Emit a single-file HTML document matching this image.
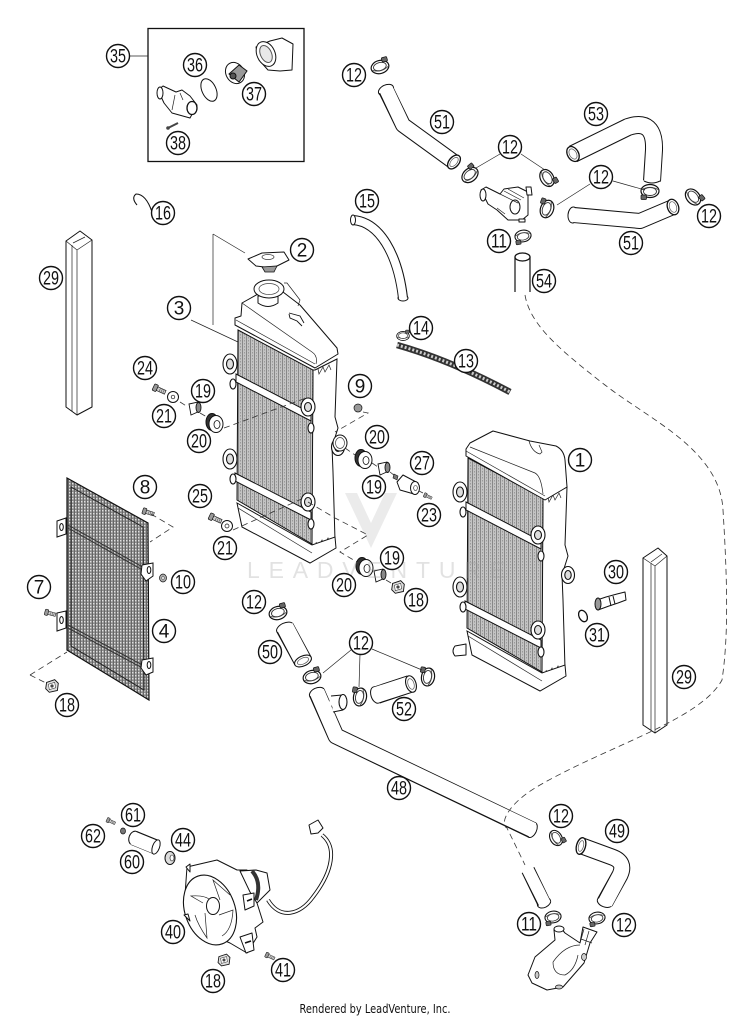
<!DOCTYPE html>
<html><head><meta charset="utf-8"><style>
html,body{margin:0;padding:0;background:#fff}
svg{display:block}
.l circle{fill:#fff;stroke:#111;stroke-width:1.4}
.l text{font-family:"Liberation Sans Narrow","Liberation Sans",sans-serif;font-size:19px;text-anchor:middle;fill:#111;transform:translateY(.6px)}
.t{stroke:#222;stroke-width:.7;fill:none}
.d{stroke:#333;stroke-width:.8;fill:none;stroke-dasharray:6 4}
.p{stroke:#111;stroke-width:1;fill:#fff;stroke-linejoin:round}
.o{fill:none;stroke:#111;stroke-linejoin:round;stroke-linecap:butt}
.w{fill:none;stroke:#fff;stroke-linejoin:round;stroke-linecap:butt}
</style></head><body>
<svg width="750" height="1018" viewBox="0 0 750 1018" xmlns="http://www.w3.org/2000/svg">
<defs>
<pattern id="core" width="4" height="3" patternUnits="userSpaceOnUse"><rect width="4" height="3" fill="#c4c4c4"/><rect width="1" height="3" fill="#888"/><rect x="2" width="1" height="1.5" fill="#999"/></pattern>
<pattern id="mesh" width="3" height="3" patternUnits="userSpaceOnUse"><rect width="3" height="3" fill="#8a8a8a"/><rect width="1.4" height="1.4" fill="#e0e0e0"/><rect width="1" height="3" fill="#666" x="2"/></pattern>
<g id="clamp"><ellipse rx="9" ry="6.500" fill="#fff" stroke="#111" stroke-width="1.200"/><ellipse cy="-.5" rx="6.500" ry="4" fill="#fff" stroke="#333" stroke-width=".9"/><path d="M-8 1.500 Q0 6 8 1.500" fill="none" stroke="#444" stroke-width=".8"/><rect x="3.500" y="-8.500" width="5.500" height="4.500" rx="1" fill="#666" stroke="#111" stroke-width=".7"/></g>
<g id="bolt"><rect x="-8" y="-2" width="10" height="4" fill="#ccc" stroke="#111" stroke-width=".6"/><path d="M-6-2v4M-4-2v4M-2-2v4" stroke="#444" stroke-width=".5"/><rect x="1" y="-3.500" width="4" height="7" rx="1" fill="#999" stroke="#111" stroke-width=".7"/></g>
<g id="bush"><ellipse cx="-3" cy="-1" rx="6" ry="8.500" fill="#333" stroke="#111"/><ellipse cx="1" cy="1" rx="7" ry="8.500" fill="#fff" stroke="#111"/><ellipse cx="2" cy="1.500" rx="3" ry="4" fill="#fff" stroke="#111" stroke-width=".8"/></g>
<g id="collar"><path d="M-5-5 L4-7 L6 2 L-3 6Z" fill="#fff" stroke="#111" stroke-width=".9"/><ellipse cx="4.500" cy="-1.500" rx="2.500" ry="5" fill="#888" stroke="#111" stroke-width=".9"/></g>
<g id="clip"><path d="M-6-4 L3-7 L7-3 L6 5 L-3 7 L-7 3Z" fill="#ddd" stroke="#111"/><path d="M-4-2 L3-4 L4 2 L-3 4Z" fill="#fff" stroke="#333" stroke-width=".6"/><circle r="1.800" fill="#444"/></g>
<g id="rad">
<path d="M545 498 L567 487 L565 545 L568 556 L562 575 L563 600 L565 668 L541 682 L543 498Z" fill="#fff" stroke="#111" stroke-width="1"/>
<path d="M548 497 L549 502 L553 495 L555 500 L559 493 L561 498" class="t"/>
<path d="M546 670 L548 676 L552 668 L554 674 L558 666 L560 671" class="t"/>
<path d="M468 458 L543 498 L542 672 L467 628Z" fill="url(#core)" stroke="#111"/>
<path d="M466 502 L541 541 L541 549 L466 510Z" fill="#fff" stroke="#111"/>
<path d="M465 601 L541 640 L541 648 L465 609Z" fill="#fff" stroke="#111"/>
<path d="M467 631 L542 673 L565 665 L566 676 L540 691 L472 655Z" fill="#fff" stroke="#111"/>
<path d="M468 636 L542 681" class="t"/>
<g fill="#fff" stroke="#111" stroke-width="1.100">
<ellipse cx="460" cy="492" rx="7" ry="10"/><ellipse cx="460" cy="492" rx="3.500" ry="5" fill="#ddd"/>
<ellipse cx="460" cy="587" rx="7" ry="10"/><ellipse cx="460" cy="587" rx="3.500" ry="5" fill="#ddd"/>
<ellipse cx="538" cy="535" rx="7" ry="9"/><ellipse cx="538" cy="535" rx="3.500" ry="4.500" fill="#ddd"/>
<ellipse cx="538" cy="630" rx="7" ry="9"/><ellipse cx="538" cy="630" rx="3.500" ry="4.500" fill="#ddd"/>
<ellipse cx="568" cy="575" rx="6.500" ry="8.500"/><ellipse cx="568" cy="575" rx="3.200" ry="4.500" fill="#ddd"/>
<ellipse cx="463" cy="512" rx="3" ry="5"/><ellipse cx="463" cy="607" rx="3" ry="5"/><ellipse cx="541" cy="556" rx="3" ry="5"/><ellipse cx="541" cy="652" rx="3" ry="5"/>
</g>
</g>
</defs>
<rect width="750" height="1018" fill="#fff"/>

<!-- thermostat box -->
<rect x="148" y="28.500" width="156" height="133" fill="#fff" stroke="#111" stroke-width="1.300"/>
<path class="t" d="M130 56H148"/>
<ellipse cx="209" cy="90" rx="7" ry="12" transform="rotate(-25 209 90)" fill="none" stroke="#111" stroke-width="1"/>
<path class="p" d="M158 90 L163 86 L176 92 L182 90 L190 96 L197 105 L190 118 L172 113 L164 103Z"/>
<ellipse class="p" cx="160" cy="93" rx="3" ry="6"/>
<path class="t" d="M175 95 L172 110 M180 93 L183 100"/>
<ellipse cx="192" cy="108" rx="5" ry="6.500" fill="#fff" stroke="#111" stroke-width="1.300"/>
<path d="M168 128 L178 123" stroke="#444" stroke-width="2"/>
<circle cx="168" cy="128" r="1.800" fill="#444"/>
<ellipse cx="235" cy="73" rx="9" ry="11" transform="rotate(-30 235 73)" fill="#fff" stroke="#111"/>
<path d="M229 74 L239 65 L247 71 L239 82Z" fill="#999" stroke="#111"/>
<circle cx="233" cy="76" r="3" fill="#555" stroke="#111"/>
<path class="p" d="M256 47 L270 41 L282 38 L293 44 L292 70 L280 71 L268 70 L259 60Z"/>
<ellipse class="p" cx="266" cy="54" rx="9" ry="13" transform="rotate(-25 266 54)"/>
<ellipse cx="266" cy="54" rx="5.500" ry="9" transform="rotate(-25 266 54)" fill="#e8e8e8" stroke="#555"/>

<!-- 16 -->
<path fill="none" stroke="#111" stroke-width="1.100" d="M152 212 Q146 194 136 194 Q131 198 137 205"/>

<!-- columns 29 -->
<path class="p" d="M66 241 L80 231 L92 240 V407 L77 415 L66 407Z"/><path class="t" d="M66 241 L77 250 V415 M77 250 L92 240 M72 245 V411 M73 243 L85 237"/>
<path class="p" d="M643 558 L658 548 L667 556 V725 L655 733 L643 725Z"/><path class="t" d="M643 558 L655 566 V733 M655 566 L667 556 M651 563 V730 M651 562 L662 554"/>

<!-- radiators -->
<use href="#rad"/>
<use href="#rad" x="-230" y="-128"/>

<!-- tank rad 1 -->
<path class="p" d="M470 443 L493 431 L530 441 L556 446 Q564 450 565 460 L567 487 L545 500 L466 456 L466 449Z"/>
<path class="t" d="M470 447 L535 473 Q541 476 543 494 M466 451 L545 496"/>
<path class="t" d="M529 441 Q532 452 540 454 L542 452 L539 445"/>
<!-- tank rad 3 -->
<path class="p" d="M235 318 L241 316 L242 303 L258 294 L283 292 L300 305 L337 348 L338 354 L315 368 L235 325Z"/>
<path class="t" d="M242 303 L312 352 Q318 356 316 364 M236 320 L315 364"/>
<path fill="none" stroke="#111" stroke-width=".9" d="M289 313 L300 316 L304 323 M289 314 L290 318 L297 321 L302 326"/>

<!-- cap 2 and neck -->
<path class="t" d="M213 234V325M213 234L245 253"/>
<path class="p" d="M248 259 L262 253 L284 252 L289 260 L273 268 L256 266Z"/>
<ellipse cx="268" cy="257" rx="6" ry="2.500" fill="#fff" stroke="#333" stroke-width=".7"/>
<path d="M262 267 L265 272 H274 L277 266Z" fill="#999" stroke="#111" stroke-width=".8"/>
<path class="p" d="M258 296 V303 Q268 310 278 303 V296Z"/>
<ellipse class="p" cx="269" cy="289" rx="15" ry="9"/>
<ellipse cx="269" cy="289" rx="10" ry="5.500" fill="#fff" stroke="#444" stroke-width=".7"/>
<path class="t" d="M284 283 L287 283 L300 300 L298 306"/>
<path class="t" d="M191 320 L238 342"/>

<!-- grille 4 -->
<path d="M67 478 L148 523 L149 700 L67 650Z" fill="url(#mesh)" stroke="#111" stroke-width="1.200"/>
<path d="M71 487 L143 527 L144 690 L71 646Z" fill="none" stroke="#222" stroke-width="1"/>
<path d="M68 525 L148 570 M68 528 L148 573 M68 625 L148 668 M68 628 L148 671" stroke="#333" stroke-width="1"/>
<g fill="#fff" stroke="#111" stroke-width="1">
<path d="M57 521 L66 518 L66 534 L57 537Z"/><ellipse cx="61.500" cy="527" rx="1.800" ry="3.500"/>
<path d="M57 613 L66 611 L66 628 L57 631Z"/><ellipse cx="61.500" cy="620" rx="1.800" ry="3.500"/>
<path d="M142 565 L153 563 L153 576 L146 581 L141 574Z"/><ellipse cx="149" cy="570" rx="1.800" ry="3.500"/>
<path d="M142 660 L153 658 L153 672 L146 675 L141 668Z"/><ellipse cx="149" cy="665" rx="1.800" ry="3.500"/>
</g>
<use href="#bolt" transform="translate(147 512) rotate(198) scale(.9)"/>
<ellipse cx="163" cy="578" rx="3.500" ry="4" fill="#aaa" stroke="#111" stroke-width=".7"/><circle cx="163" cy="578" r="1.300" fill="#fff" stroke="#111" stroke-width=".4"/>
<use href="#bolt" transform="translate(49 613) rotate(195) scale(.85)"/>
<path class="d" d="M151 514 L173 527 L150 542"/>
<path class="d" d="M30 675 L67 652"/><path class="d" d="M30 675 L54 687"/>

<!-- small parts -->
<use href="#bolt" transform="translate(158 389) rotate(205) scale(1)"/>
<circle cx="173" cy="397" r="5.500" fill="#fff" stroke="#111"/><circle cx="173" cy="397" r="1.800" fill="#fff" stroke="#111" stroke-width=".7"/>
<use href="#collar" transform="translate(194 409)"/>
<use href="#bush" transform="translate(215 423)"/>
<path class="d" d="M180 402 L188 407 M200 413 L207 417 M224 428 L306 398"/>
<circle cx="358" cy="408" r="4" fill="#999" stroke="#111" stroke-width=".7"/>
<path class="d" d="M363 412 L368 413 L335 432"/>
<ellipse cx="340" cy="443" rx="7" ry="8" fill="#fff" stroke="#111"/><ellipse cx="340" cy="443" rx="4.500" ry="5.500" fill="#fff" stroke="#444" stroke-width=".7"/>
<path class="d" d="M345 448 L355 455 M372 463 L378 467 M390 472 L395 476 M419 491 L423 493"/>
<use href="#bush" transform="translate(364 459)"/>
<use href="#collar" transform="translate(383 469)"/>
<path d="M394 474 L398 476 L397 480 L393 478Z" fill="#777" stroke="#111" stroke-width=".6"/>
<path class="p" d="M397 482 L403 475 L418 483 L414 494 L400 490Z"/>
<ellipse class="p" cx="415" cy="488" rx="4.500" ry="6.500"/><ellipse cx="415.500" cy="488" rx="1.800" ry="2.500" fill="#fff" stroke="#111" stroke-width=".6"/>
<use href="#bolt" transform="translate(427 496) rotate(205) scale(.65)"/>
<use href="#bolt" transform="translate(214 518) rotate(205) scale(1)"/>
<circle cx="227" cy="526" r="5.500" fill="#fff" stroke="#111"/><circle cx="227" cy="526" r="2" fill="#fff" stroke="#111" stroke-width=".7"/>
<path class="d" d="M233 530 L306 497 M308 502 L335 518 L368 535 L340 552 L357 562"/>
<use href="#bush" transform="translate(365 567)"/>
<use href="#collar" transform="translate(379 576)"/>
<path class="d" d="M386 580 L391 583"/>
<use href="#clip" transform="translate(398 587) scale(.9)"/>
<use href="#clip" transform="translate(52 686) scale(.9)"/>
<use href="#clip" transform="translate(224 960) scale(.85)"/>

<!-- hose 15 -->
<ellipse cx="403" cy="298" rx="5" ry="3" fill="#fff" stroke="#111"/>
<path class="o" stroke-width="10" d="M353 220 C380 222 398 255 403 298"/><path class="w" stroke-width="8" d="M353 220 C380 222 398 255 403 298.500"/>
<ellipse cx="353" cy="220" rx="2.500" ry="5" fill="#fff" stroke="#111"/>

<!-- hose 13 & clamp 14 -->
<path d="M397 345 Q450 360 510 392" fill="none" stroke="#333" stroke-width="6.500"/>
<path d="M397 345 Q450 360 510 392" fill="none" stroke="#ccc" stroke-width="3" stroke-dasharray="2 2"/>
<use href="#clamp" transform="translate(403 336) scale(.7)"/>

<!-- hoses upper -->
<ellipse cx="386" cy="90" rx="8" ry="5" transform="rotate(-25 386 90)" fill="#fff" stroke="#111"/>
<path class="o" stroke-width="16" d="M386 90 L403 125 L454 162"/><path class="w" stroke-width="14" d="M386 89 L403 125 L454 162"/>
<ellipse cx="454" cy="162" rx="5" ry="8" transform="rotate(40 454 162)" fill="#fff" stroke="#111" stroke-width="1.300"/><ellipse cx="454" cy="162" rx="3" ry="5.500" transform="rotate(40 454 162)" fill="#fff" stroke="#555" stroke-width=".7"/>
<path class="o" stroke-width="18" d="M573 154 L628 127 Q655 118 654 150 L652 181"/><path class="w" stroke-width="16" d="M573 154 L628 127 Q655 118 654 150 L652 182"/>
<path fill="none" stroke="#111" d="M644 181 Q652 185 660 181"/>
<ellipse cx="573" cy="154" rx="5.500" ry="8" transform="rotate(-30 573 154)" fill="#fff" stroke="#111" stroke-width="1.300"/><ellipse cx="573" cy="154" rx="3.500" ry="5.500" transform="rotate(-30 573 154)" fill="#fff" stroke="#555" stroke-width=".7"/>
<ellipse cx="573" cy="215" rx="5" ry="8" transform="rotate(5 573 215)" fill="#fff" stroke="#111"/>
<path class="o" stroke-width="16" d="M574 215 L640 221 L673 207"/><path class="w" stroke-width="14" d="M573 215 L640 221 L673 207"/>
<ellipse cx="673" cy="207" rx="5.500" ry="8" transform="rotate(-20 673 207)" fill="#fff" stroke="#111" stroke-width="1.300"/><ellipse cx="673" cy="207" rx="3.500" ry="5.500" transform="rotate(-20 673 207)" fill="#fff" stroke="#555" stroke-width=".7"/>
<path d="M515 257 V292 M530 257 V292" stroke="#111" stroke-width="1.200" fill="none"/>
<ellipse cx="522.500" cy="257" rx="7.500" ry="4" fill="#fff" stroke="#111" stroke-width="1.300"/>

<!-- thermostat upper -->
<path class="p" d="M481 190 L486 187 L500 194 L504 189 L518 187 L528 192 L528 215 L522 220 L508 220 L497 210 L488 204Z"/>
<ellipse class="p" cx="483" cy="195" rx="3" ry="6"/>
<ellipse cx="515" cy="207" rx="5" ry="7" fill="#fff" stroke="#111"/>
<path class="t" d="M500 194 L518 203 M504 191 L521 200 M508 189 L524 198 M497 208 L505 214"/>
<path class="p" d="M526 187 L531 187 L532 195 L527 195Z"/>
<path class="p" d="M519 219 L525 219 L525 222 L519 222Z"/>

<!-- clamps -->
<use href="#clamp" transform="translate(380 67) rotate(-15)"/>
<use href="#clamp" transform="translate(470 175) rotate(-40)"/>
<use href="#clamp" transform="translate(547 178) rotate(60)"/>
<use href="#clamp" transform="translate(547 209) rotate(-70)"/>
<use href="#clamp" transform="translate(650 191) rotate(180)"/>
<use href="#clamp" transform="translate(693 197) rotate(50)"/>
<use href="#clamp" transform="translate(523 236) rotate(170) scale(.9)"/>
<use href="#clamp" transform="translate(278 613) rotate(-15)"/>
<use href="#clamp" transform="translate(312 677) rotate(-15)"/>
<use href="#clamp" transform="translate(360 697) rotate(-80)"/>
<use href="#clamp" transform="translate(428 677) rotate(-80)"/>
<use href="#clamp" transform="translate(556 838) rotate(60) scale(.9)"/>
<use href="#clamp" transform="translate(553 917) rotate(170) scale(.9)"/>
<use href="#clamp" transform="translate(597 918) rotate(170) scale(.9)"/>

<!-- leader lines 12 -->
<path class="t" d="M500 154 L476 168 M521 154 L545 170 M590 184 L557 205 M613 181 L645 190 M360 654 L359 687 M351 650 L323 673 M372 649 L422 670"/>

<!-- hoses lower -->
<ellipse cx="285" cy="628" rx="9" ry="5" transform="rotate(-25 285 628)" fill="#fff" stroke="#111"/>
<path class="o" stroke-width="19" d="M285 628 L303 661"/><path class="w" stroke-width="17" d="M285 627 L303 661"/>
<ellipse cx="303" cy="661" rx="9" ry="5" transform="rotate(-25 303 661)" fill="#fff" stroke="#111" stroke-width="1.100"/><ellipse cx="303" cy="661" rx="6" ry="3" transform="rotate(-25 303 661)" fill="#fff" stroke="#555" stroke-width=".7"/>
<ellipse cx="376" cy="695" rx="5" ry="8.500" transform="rotate(-18 376 695)" fill="#fff" stroke="#111"/>
<path class="o" stroke-width="18" d="M377 695 L410 684"/><path class="w" stroke-width="16" d="M376 695 L410 684"/>
<ellipse cx="411" cy="684" rx="5" ry="8.500" transform="rotate(-18 411 684)" fill="#fff" stroke="#111" stroke-width="1.100"/><ellipse cx="411" cy="684" rx="3" ry="5.500" transform="rotate(-18 411 684)" fill="#fff" stroke="#555" stroke-width=".7"/>
<ellipse cx="317" cy="693" rx="8" ry="5" transform="rotate(-25 317 693)" fill="#fff" stroke="#111"/>
<ellipse cx="532" cy="830" rx="4.500" ry="8" transform="rotate(25 532 830)" fill="#fff" stroke="#111"/>
<path class="o" stroke-width="17" d="M317 693 L336 736 L532 830"/><path class="w" stroke-width="15" d="M317 692 L336 736 L533 830"/>
<path class="p" d="M331 696 L342 695 Q348 702 343 710 L333 712"/>
<path d="M330.500 697 V711" stroke="#fff" stroke-width="2"/>
<ellipse cx="343" cy="702" rx="4" ry="7.500" fill="#fff" stroke="#111" stroke-width="1.100"/>
<ellipse cx="605" cy="902" rx="8" ry="5" transform="rotate(20 605 902)" fill="#fff" stroke="#111"/>
<path class="o" stroke-width="17" d="M582 846 L612 857 Q626 862 620 875 L605 902"/><path class="w" stroke-width="15" d="M582 846 L612 857 Q626 862 620 875 L605 903"/>
<ellipse cx="581" cy="846" rx="4.500" ry="8.500" transform="rotate(15 581 846)" fill="#fff" stroke="#111" stroke-width="1.300"/><ellipse cx="581" cy="846" rx="2.500" ry="5.500" transform="rotate(15 581 846)" fill="#fff" stroke="#555" stroke-width=".7"/>
<ellipse cx="544" cy="903" rx="7" ry="4.500" transform="rotate(-25 544 903)" fill="#fff" stroke="#111"/>
<path class="o" stroke-width="14" d="M528 870 L544 903"/><path class="w" stroke-width="12" d="M527 868 L545 904"/>

<!-- dashed routing -->
<path class="d" d="M525 295 C530 325 560 350 605 385 C650 420 720 450 723 510 C728 590 728 640 722 680 C700 720 610 745 540 785 C505 805 500 825 507 828 L525 865"/>

<!-- water pump -->
<path class="p" d="M528 975 L535 957 L555 940 L554 930 L560 927 L565 933 L580 943 L583 927 L597 932 L590 943 L584 963 L563 987 L547 990 L532 983Z"/>
<path class="t" d="M553 962 Q565 945 580 945 M553 962 Q553 975 565 975 Q575 970 578 955 M584 929 L580 943 M589 931 L585 945 M581 939 L592 943"/>
<ellipse cx="559" cy="929" rx="5" ry="3" fill="#fff" stroke="#111"/>
<ellipse cx="537" cy="975" rx="2" ry="3.500" fill="#ccc" stroke="#111" stroke-width=".7"/>
<ellipse cx="559" cy="987" rx="3.500" ry="2" fill="#ccc" stroke="#111" stroke-width=".7"/>
<ellipse cx="584" cy="957" rx="2.500" ry="3.500" fill="#ccc" stroke="#111" stroke-width=".7"/>

<!-- fan part -->
<use href="#bolt" transform="translate(110 821) rotate(205) scale(.7)"/>
<ellipse cx="123" cy="831" rx="2.500" ry="3" fill="#777" stroke="#111" stroke-width=".7"/>
<ellipse cx="134" cy="838" rx="5" ry="7" transform="rotate(20 134 838)" fill="#fff" stroke="#111"/>
<path class="o" stroke-width="15" d="M134 838 L156 847"/><path class="w" stroke-width="13.400" d="M133 838 L155 847"/>
<ellipse cx="156" cy="847" rx="3.500" ry="7.500" transform="rotate(20 156 847)" fill="#fff" stroke="#111"/>
<ellipse cx="170" cy="858" rx="5" ry="6.500" fill="#ddd" stroke="#111"/><ellipse cx="172" cy="858" rx="2" ry="3" fill="#fff" stroke="#111" stroke-width=".6"/>
<path class="p" d="M187 867 L217 860 L237 870 L247 870 L257 903 L263 922 L255 928 L257 937 L247 953 L230 943 L200 930 L185 895Z"/>
<path class="p" d="M240 871 L256 870 L267 873 L270 890 L257 903 L250 892Z"/>
<path d="M252 871 Q262 882 256 900" fill="none" stroke="#333" stroke-width="4"/>
<ellipse cx="210" cy="910" rx="25" ry="36" transform="rotate(-20 210 910)" fill="#fff" stroke="#111" stroke-width="1.100"/>
<path class="t" d="M203 903 L191 896 Q205 895 210 900 M219 915 L233 910 Q232 930 222 936 M205 913 L207 938 Q198 925 195 915 M220 900 L213 880 L230 895"/>
<ellipse cx="213" cy="906" rx="6.500" ry="8.500" fill="#fff" stroke="#111"/>
<path class="p" d="M243 895 L254 893 L254 906 L245 910Z"/><path d="M247 901 L252 899" stroke="#111" stroke-width="1.500"/>
<path class="p" d="M240 937 L252 933 L254 950 L246 953Z"/><path d="M245 943 L251 941" stroke="#111" stroke-width="1.500"/>
<path class="o" stroke-width="4" d="M268 900 C280 920 300 915 313 897 Q330 875 331 857 Q332 843 322 835"/><path class="w" stroke-width="2.200" d="M268 900 C280 920 300 915 313 897 Q330 875 331 857 Q332 843 322 835"/>
<path class="p" d="M309 825 L318 820 L323 828 L318 833 L311 834Z"/>
<path class="p" d="M186 867 L190 864 L190 872Z M184 915 L188 914 L190 921Z"/>
<use href="#bolt" transform="translate(269 956) rotate(205) scale(.75)"/>

<!-- 30 / 31 sensor -->
<path class="p" d="M597 600 L606 597 L617 594 L625 592 L626 600 L618 603 L609 606 L598 610Z"/>
<ellipse cx="598" cy="604" rx="3" ry="6" fill="#999" stroke="#111"/>
<path d="M609 597 L611 606 M613 596 L615 604" stroke="#111"/>
<ellipse cx="583" cy="616" rx="4" ry="6" transform="rotate(-25 583 616)" fill="none" stroke="#111" stroke-width="1.300"/>

<!-- stub -->
<path class="p" d="M466 644 L455 646 Q451 651 455 656 L466 655Z"/>

<!-- watermark -->
<path d="M345 493 L371 548 L397 493 L385 493 L371 523 L357 493Z" fill="#999" opacity=".2"/>
<text x="247" y="578" font-family="Liberation Sans,sans-serif" font-size="23" textLength="258" fill="#999" opacity=".28">LEADVENTURE</text>

<!-- labels -->
<g class="l">
<g><circle cx="118" cy="56" r="11.500"/><text x="118" y="62" textLength="16" lengthAdjust="spacingAndGlyphs">35</text></g>
<g><circle cx="195" cy="65" r="11.500"/><text x="195" y="71" textLength="16" lengthAdjust="spacingAndGlyphs">36</text></g>
<g><circle cx="254" cy="94" r="11.500"/><text x="254" y="100" textLength="16" lengthAdjust="spacingAndGlyphs">37</text></g>
<g><circle cx="178" cy="143" r="11.500"/><text x="178" y="149" textLength="16" lengthAdjust="spacingAndGlyphs">38</text></g>
<g><circle cx="354" cy="75" r="11.500"/><text x="354" y="81" textLength="16" lengthAdjust="spacingAndGlyphs">12</text></g>
<g><circle cx="442" cy="122" r="11.500"/><text x="442" y="128" textLength="16" lengthAdjust="spacingAndGlyphs">51</text></g>
<g><circle cx="596" cy="114" r="11.500"/><text x="596" y="120" textLength="16" lengthAdjust="spacingAndGlyphs">53</text></g>
<g><circle cx="510" cy="147" r="11.500"/><text x="510" y="153" textLength="16" lengthAdjust="spacingAndGlyphs">12</text></g>
<g><circle cx="601" cy="177" r="11.500"/><text x="601" y="183" textLength="16" lengthAdjust="spacingAndGlyphs">12</text></g>
<g><circle cx="709" cy="216" r="11.500"/><text x="709" y="222" textLength="16" lengthAdjust="spacingAndGlyphs">12</text></g>
<g><circle cx="631" cy="243" r="11.500"/><text x="631" y="249" textLength="16" lengthAdjust="spacingAndGlyphs">51</text></g>
<g><circle cx="499" cy="241" r="11.500"/><text x="499" y="247" textLength="16" lengthAdjust="spacingAndGlyphs">11</text></g>
<g><circle cx="544" cy="281" r="11.500"/><text x="544" y="287" textLength="16" lengthAdjust="spacingAndGlyphs">54</text></g>
<g><circle cx="367" cy="201" r="11.500"/><text x="367" y="207" textLength="16" lengthAdjust="spacingAndGlyphs">15</text></g>
<g><circle cx="163" cy="213" r="11.500"/><text x="163" y="219" textLength="16" lengthAdjust="spacingAndGlyphs">16</text></g>
<g><circle cx="302" cy="250" r="11.500"/><text x="302" y="256">2</text></g>
<g><circle cx="51" cy="278" r="11.500"/><text x="51" y="284" textLength="16" lengthAdjust="spacingAndGlyphs">29</text></g>
<g><circle cx="179" cy="308" r="11.500"/><text x="179" y="314">3</text></g>
<g><circle cx="421" cy="328" r="11.500"/><text x="421" y="334" textLength="16" lengthAdjust="spacingAndGlyphs">14</text></g>
<g><circle cx="466" cy="361" r="11.500"/><text x="466" y="367" textLength="16" lengthAdjust="spacingAndGlyphs">13</text></g>
<g><circle cx="360" cy="386" r="11.500"/><text x="360" y="392">9</text></g>
<g><circle cx="145" cy="368" r="11.500"/><text x="145" y="374" textLength="16" lengthAdjust="spacingAndGlyphs">24</text></g>
<g><circle cx="203" cy="391" r="11.500"/><text x="203" y="397" textLength="16" lengthAdjust="spacingAndGlyphs">19</text></g>
<g><circle cx="164" cy="416" r="11.500"/><text x="164" y="422" textLength="16" lengthAdjust="spacingAndGlyphs">21</text></g>
<g><circle cx="199" cy="441" r="11.500"/><text x="199" y="447" textLength="16" lengthAdjust="spacingAndGlyphs">20</text></g>
<g><circle cx="377" cy="437" r="11.500"/><text x="377" y="443" textLength="16" lengthAdjust="spacingAndGlyphs">20</text></g>
<g><circle cx="422" cy="463" r="11.500"/><text x="422" y="469" textLength="16" lengthAdjust="spacingAndGlyphs">27</text></g>
<g><circle cx="374" cy="487" r="11.500"/><text x="374" y="493" textLength="16" lengthAdjust="spacingAndGlyphs">19</text></g>
<g><circle cx="429" cy="515" r="11.500"/><text x="429" y="521" textLength="16" lengthAdjust="spacingAndGlyphs">23</text></g>
<g><circle cx="145" cy="487" r="11.500"/><text x="145" y="493">8</text></g>
<g><circle cx="200" cy="496" r="11.500"/><text x="200" y="502" textLength="16" lengthAdjust="spacingAndGlyphs">25</text></g>
<g><circle cx="225" cy="548" r="11.500"/><text x="225" y="554" textLength="16" lengthAdjust="spacingAndGlyphs">21</text></g>
<g><circle cx="183" cy="582" r="11.500"/><text x="183" y="588" textLength="16" lengthAdjust="spacingAndGlyphs">10</text></g>
<g><circle cx="39" cy="587" r="11.500"/><text x="39" y="593">7</text></g>
<g><circle cx="164" cy="631" r="11.500"/><text x="164" y="637">4</text></g>
<g><circle cx="67" cy="705" r="11.500"/><text x="67" y="711" textLength="16" lengthAdjust="spacingAndGlyphs">18</text></g>
<g><circle cx="344" cy="585" r="11.500"/><text x="344" y="591" textLength="16" lengthAdjust="spacingAndGlyphs">20</text></g>
<g><circle cx="392" cy="558" r="11.500"/><text x="392" y="564" textLength="16" lengthAdjust="spacingAndGlyphs">19</text></g>
<g><circle cx="416" cy="600" r="11.500"/><text x="416" y="606" textLength="16" lengthAdjust="spacingAndGlyphs">18</text></g>
<g><circle cx="580" cy="460" r="11.500"/><text x="580" y="466">1</text></g>
<g><circle cx="616" cy="572" r="11.500"/><text x="616" y="578" textLength="16" lengthAdjust="spacingAndGlyphs">30</text></g>
<g><circle cx="597" cy="635" r="11.500"/><text x="597" y="641" textLength="16" lengthAdjust="spacingAndGlyphs">31</text></g>
<g><circle cx="684" cy="677" r="11.500"/><text x="684" y="683" textLength="16" lengthAdjust="spacingAndGlyphs">29</text></g>
<g><circle cx="254" cy="602" r="11.500"/><text x="254" y="608" textLength="16" lengthAdjust="spacingAndGlyphs">12</text></g>
<g><circle cx="270" cy="652" r="11.500"/><text x="270" y="658" textLength="16" lengthAdjust="spacingAndGlyphs">50</text></g>
<g><circle cx="361" cy="643" r="11.500"/><text x="361" y="649" textLength="16" lengthAdjust="spacingAndGlyphs">12</text></g>
<g><circle cx="404" cy="709" r="11.500"/><text x="404" y="715" textLength="16" lengthAdjust="spacingAndGlyphs">52</text></g>
<g><circle cx="399" cy="788" r="11.500"/><text x="399" y="794" textLength="16" lengthAdjust="spacingAndGlyphs">48</text></g>
<g><circle cx="561" cy="816" r="11.500"/><text x="561" y="822" textLength="16" lengthAdjust="spacingAndGlyphs">12</text></g>
<g><circle cx="617" cy="831" r="11.500"/><text x="617" y="837" textLength="16" lengthAdjust="spacingAndGlyphs">49</text></g>
<g><circle cx="133" cy="815" r="11.500"/><text x="133" y="821" textLength="16" lengthAdjust="spacingAndGlyphs">61</text></g>
<g><circle cx="93" cy="836" r="11.500"/><text x="93" y="842" textLength="16" lengthAdjust="spacingAndGlyphs">62</text></g>
<g><circle cx="183" cy="840" r="11.500"/><text x="183" y="846" textLength="16" lengthAdjust="spacingAndGlyphs">44</text></g>
<g><circle cx="132" cy="862" r="11.500"/><text x="132" y="868" textLength="16" lengthAdjust="spacingAndGlyphs">60</text></g>
<g><circle cx="173" cy="932" r="11.500"/><text x="173" y="938" textLength="16" lengthAdjust="spacingAndGlyphs">40</text></g>
<g><circle cx="213" cy="981" r="11.500"/><text x="213" y="987" textLength="16" lengthAdjust="spacingAndGlyphs">18</text></g>
<g><circle cx="283" cy="970" r="11.500"/><text x="283" y="976" textLength="16" lengthAdjust="spacingAndGlyphs">41</text></g>
<g><circle cx="529" cy="924" r="11.500"/><text x="529" y="930" textLength="16" lengthAdjust="spacingAndGlyphs">11</text></g>
<g><circle cx="624" cy="925" r="11.500"/><text x="624" y="931" textLength="16" lengthAdjust="spacingAndGlyphs">12</text></g>
</g>
<text x="375" y="1013" text-anchor="middle" font-family="DejaVu Sans,sans-serif" font-size="12" textLength="151" lengthAdjust="spacingAndGlyphs" fill="#111">Rendered by LeadVenture, Inc.</text>
</svg>
</body></html>
